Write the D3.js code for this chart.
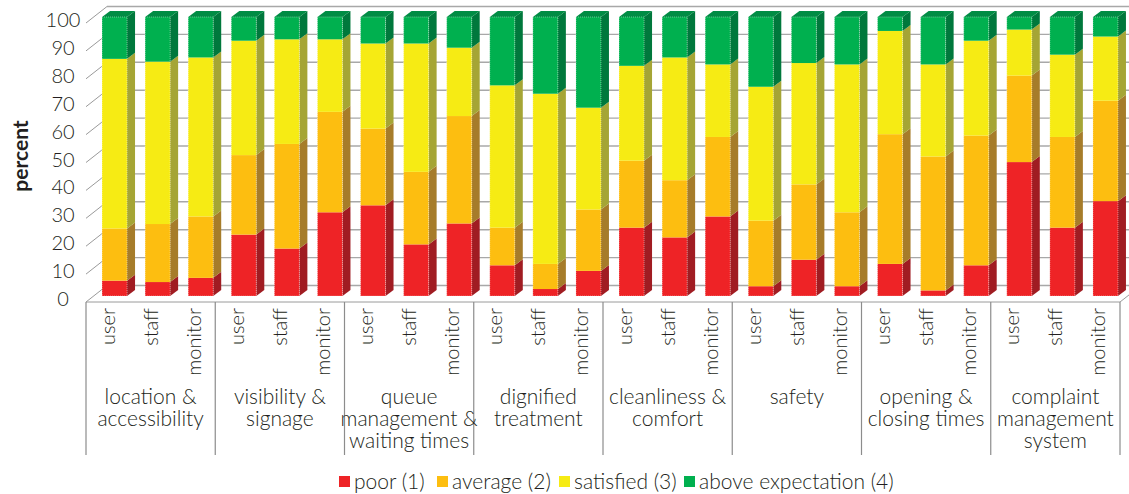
<!DOCTYPE html>
<html>
<head>
<meta charset="utf-8">
<script src="https://cdn.jsdelivr.net/npm/d3@7"></script>
<style>
  html, body { margin: 0; padding: 0; background: #fff; }
  svg { display: block; }
  text { font-family: Lato, sans-serif; font-weight: 300; fill: #231f20; }
</style>
</head>
<body>
<svg id="chart"></svg>
<script>
// data
const groups = [
  ['location &', 'accessibility'],
  ['visibility &', 'signage'],
  ['queue', 'management &', 'waiting times'],
  ['dignified', 'treatment'],
  ['cleanliness  &', 'comfort'],
  ['safety'],
  ['opening &', 'closing times'],
  ['complaint', 'management', 'system']
];
const roles = ['user', 'staff', 'monitor'];
const seriesNames = ['poor (1)', 'average (2)', 'satisfied (3)', 'above expectation (4)'];
const poor = [5.5, 5, 6.5, 22, 17, 30, 32.5, 18.5, 26, 11, 2.5, 9, 24.5, 21, 28.5, 3.5, 13, 3.5, 11.5, 2, 11, 48, 24.5, 34];
const average = [18.7, 20.8, 22, 28.5, 37.5, 36, 27.5, 26, 38.5, 13.5, 9, 22, 24, 20.5, 28.5, 23.5, 27, 26.5, 46.5, 48, 46.5, 31, 32.5, 36];
const satisfied = [60.8, 58.2, 57, 41, 37.5, 26, 30.5, 46, 24.5, 51, 61, 36.5, 34, 44, 26, 48, 43.5, 53, 37, 33, 34, 16.5, 29.5, 23];
const above = [15, 16, 14.5, 8.5, 8, 8, 9.5, 9.5, 11, 24.5, 27.5, 32.5, 17.5, 14.5, 17, 25, 16.5, 17, 5, 17, 8.5, 4.5, 13.5, 7];

const width = 1129;
const height = 494;

const colors = ['#ee2326', '#fdbe10', '#f6eb14', '#00b04f'];
const sideColors = ['#a01c22', '#a67c2a', '#a5a535', '#00783c'];
const topColor = '#008c44';

const rows = poor.map((d, i) => ({
  key: i,
  [seriesNames[0]]: d,
  [seriesNames[1]]: average[i],
  [seriesNames[2]]: satisfied[i],
  [seriesNames[3]]: above[i]
}));
const stacked = d3.stack().keys(seriesNames)(rows);

// front plane of the box
const x0 = 86, x1 = 1120;
const y = d3.scaleLinear().domain([0, 100]).range([302, 23]);
const xGroup = d3.scaleBand().domain(d3.range(groups.length)).range([x0, x1]);
const xBar = d3.scaleBand().domain(d3.range(rows.length)).range([x0, x1]);

// oblique offsets: back wall, bar front and bar depth
const wallDx = 21, wallDy = -16.5;
const barDx = 7, barDy = -6;
const depthX = 8, depthY = -6;
const barW = 25;

const svg = d3.select('#chart').attr('width', width).attr('height', height);
const defs = svg.append('defs');
defs.append('clipPath').attr('id', 'page').append('rect')
  .attr('width', width).attr('height', height);

const ticks = d3.range(0, 101, 10);

// back wall gridlines
svg.append('g').attr('clip-path', 'url(#page)')
  .selectAll('line.grid').data(ticks).join('line')
  .attr('x1', x0 + wallDx).attr('x2', x1 + wallDx)
  .attr('y1', (d) => y(d) + wallDy).attr('y2', (d) => y(d) + wallDy)
  .attr('stroke', '#a8a8a8').attr('stroke-width', 1.4);

// left wall diagonals
svg.selectAll('line.diag').data(ticks).join('line')
  .attr('x1', x0).attr('x2', x0 + wallDx)
  .attr('y1', (d) => y(d)).attr('y2', (d) => y(d) + wallDy)
  .attr('stroke', '#9a9a9a').attr('stroke-width', 1);

// floor
svg.append('g').attr('clip-path', 'url(#page)').append('path')
  .attr('d', `M${x0},${y(0)}L${x1},${y(0)}L${x1 + wallDx},${y(0) + wallDy}`)
  .attr('fill', 'none').attr('stroke', '#9a9a9a').attr('stroke-width', 1);

// bars
const barX = (i) => xBar(i) + (xBar.bandwidth() - barW) / 2 + barDx;
const barG = svg.selectAll('g.bar').data(rows).join('g').attr('class', 'bar');

barG.each(function (row, i) {
  const g = d3.select(this);
  const left = barX(i);
  const right = left + barW;
  stacked.forEach((s, k) => {
    const yLow = y(s[i][0]) + barDy;
    const yHigh = y(s[i][1]) + barDy;
    g.append('path')
      .attr('d', `M${right},${yLow}L${right + depthX},${yLow + depthY}L${right + depthX},${yHigh + depthY}L${right},${yHigh}Z`)
      .attr('fill', sideColors[k]);
    g.append('rect')
      .attr('x', left).attr('y', yHigh)
      .attr('width', barW).attr('height', yLow - yHigh)
      .attr('fill', colors[k]);
  });
  const yTop = y(100) + barDy;
  g.append('path')
    .attr('d', `M${left},${yTop}L${left + depthX},${yTop + depthY}L${right + depthX},${yTop + depthY}L${right},${yTop}Z`)
    .attr('fill', topColor);
  // dotted white edge round the bar front
  g.append('rect')
    .attr('x', left).attr('y', yTop)
    .attr('width', barW).attr('height', y(0) - y(100))
    .attr('fill', 'none')
    .attr('stroke', '#fff').attr('stroke-width', 0.6)
    .attr('stroke-dasharray', '1 1').attr('stroke-opacity', 0.7);
});

// y tick labels
svg.selectAll('text.ylab').data(ticks).join('text')
  .attr('x', 63)
  .attr('y', (d) => y(d) - 3)
  .attr('dy', '0.35em')
  .attr('text-anchor', 'middle')
  .style('font-size', '20px')
  .text((d) => d);

svg.append('text')
  .attr('transform', 'translate(21,156) rotate(-90)')
  .attr('dy', '0.35em')
  .attr('text-anchor', 'middle')
  .style('font-size', '21px')
  .style('font-weight', '700')
  .text('percent');

// category dividers
svg.selectAll('line.div').data(d3.range(groups.length + 1)).join('line')
  .attr('x1', (d) => x0 + d * xGroup.bandwidth())
  .attr('x2', (d) => x0 + d * xGroup.bandwidth())
  .attr('y1', y(0)).attr('y2', 455)
  .attr('stroke', '#8c8c8c').attr('stroke-width', 1.2);

// rotated labels
svg.selectAll('text.role').data(rows).join('text')
  .attr('transform', (d, i) => `translate(${xBar(i) + xBar.bandwidth() / 2},308) rotate(-90)`)
  .attr('dy', '0.35em')
  .attr('text-anchor', 'end')
  .style('font-size', '20px')
  .text((d, i) => roles[i % 3]);

// group labels
svg.selectAll('text.group').data(groups).join('text')
  .attr('text-anchor', 'middle')
  .style('font-size', '21px')
  .each(function (d, i) {
    d3.select(this).selectAll('tspan').data(d).join('tspan')
      .attr('x', xGroup(i) + xGroup.bandwidth() / 2)
      .attr('y', (line, j) => 404 + j * 22)
      .text((line) => line);
  });

// legend
const legendX = [339, 437, 559, 684];
const legend = svg.selectAll('g.leg').data(seriesNames).join('g')
  .attr('transform', (d, i) => `translate(${legendX[i]},476)`);
legend.append('rect').attr('width', 11).attr('height', 11)
  .attr('fill', (d, i) => colors[i]);
legend.append('text')
  .attr('x', 15).attr('y', 5.5).attr('dy', '0.35em')
  .style('font-size', '21px')
  .text((d) => d);
</script>
</body>
</html>
